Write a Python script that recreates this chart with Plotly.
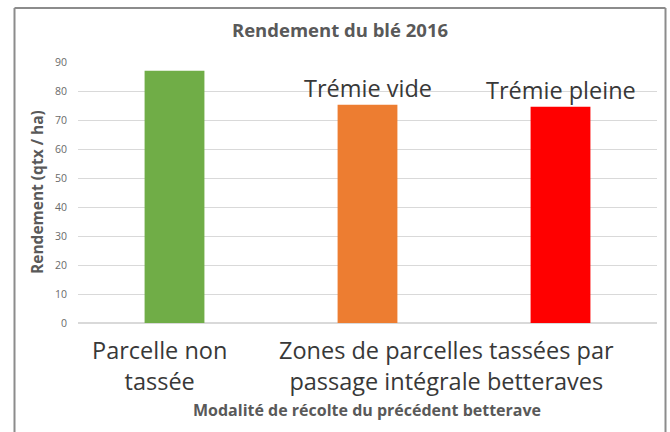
import plotly.graph_objects as go

# Data
bar_labels = ["Parcelle non tassée", "Trémie vide", "Trémie pleine"]
values = [87.0, 75.3, 74.6]
colors = ["#70ad47", "#ed7d31", "#ff0000"]
group_labels = ["Parcelle non<br>tassée", "Zones de parcelles tassées par<br>passage intégrale betteraves"]
group_pos = [-0.08, 1.41]
y_ticks = [0, 10, 20, 30, 40, 50, 60, 70, 80, 90]

FONT = "Open Sans"
W, H = 670, 432
L, R, T, B = 78, 13, 62, 109
PW, PH = W - L - R, H - T - B

fig = go.Figure()
fig.add_trace(go.Bar(
    x=[0, 1, 2], y=values, marker=dict(color=colors, line=dict(width=0)),
    width=0.31, showlegend=False, hoverinfo="skip",
))

annotations = []
for i in (1, 2):
    annotations.append(dict(
        x=i, y=values[i], xref="x", yref="y", text=bar_labels[i], showarrow=False,
        yanchor="bottom", yshift=-1, font=dict(family=FONT, size=23.5, color="#383838"),
    ))
for lbl, pos in zip(group_labels, group_pos):
    annotations.append(dict(
        x=pos, y=0, xref="x", yref="y", text=lbl, showarrow=False,
        yanchor="top", yshift=-9, font=dict(family=FONT, size=23.5, color="#383838"),
    ))
annotations.append(dict(
    x=(367 - L) / PW, y=(H - B - 410) / PH, xref="paper", yref="paper",
    text="<b>Modalité de récolte du précédent betterave</b>", showarrow=False,
    xanchor="center", yanchor="middle", font=dict(family=FONT, size=16, color="#595959"),
))
annotations.append(dict(
    x=(37 - L) / PW, y=(H - B - 192) / PH, xref="paper", yref="paper",
    text="<b>Rendement (qtx / ha)</b>", showarrow=False, textangle=-90,
    xanchor="center", yanchor="middle", font=dict(family=FONT, size=15.5, color="#595959"),
))

bx0, bx1 = (14.5 - L) / PW, (665.5 - L) / PW
by1 = (H - B - 8) / PH
border = dict(color="#8c8c8c", width=2)
shapes = [
    dict(type="line", xref="paper", yref="paper", x0=bx0, x1=bx0, y0=-1.0, y1=by1, line=border),
    dict(type="line", xref="paper", yref="paper", x0=bx1, x1=bx1, y0=-1.0, y1=by1, line=border),
    dict(type="line", xref="paper", yref="paper", x0=bx0, x1=bx1, y0=by1, y1=by1, line=border),
]

fig.update_layout(
    width=W, height=H,
    margin=dict(l=L, r=R, t=T, b=B),
    paper_bgcolor="white", plot_bgcolor="white",
    title=dict(text="<b>Rendement du blé 2016</b>", x=340 / W, xanchor="center",
               y=1 - 31 / H, yanchor="middle",
               font=dict(family=FONT, size=18.5, color="#595959")),
    xaxis=dict(range=[-0.5, 2.5], showticklabels=False, showgrid=False, zeroline=False,
               showline=False, ticks=""),
    yaxis=dict(range=[0, 90], tickvals=y_ticks, showgrid=True, gridcolor="#d9d9d9", gridwidth=1,
               zeroline=True, zerolinecolor="#d9d9d9", showline=False, ticks="",
               tickfont=dict(family=FONT, size=10.5, color="#6a6a6a"), ticklabelstandoff=10),
    annotations=annotations,
    shapes=shapes,
)

fig.write_html("out.html", config={"displayModeBar": False},
               post_script="document.body.style.margin='0';")
